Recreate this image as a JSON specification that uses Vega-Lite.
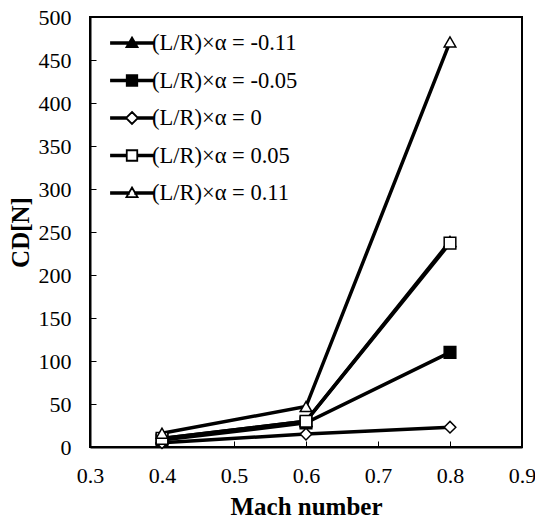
{
  "$schema": "https://vega.github.io/schema/vega-lite/v6.json",
  "autosize": {"type": "none"},
  "width": 432,
  "height": 430,
  "padding": {"left": 90, "top": 17, "right": 13, "bottom": 76},
  "background": "white",
  "config": {
    "view": {"stroke": "black", "strokeWidth": 2},
    "font": "Liberation Serif",
    "axis": {
      "grid": false,
      "domainColor": "black",
      "domainWidth": 2,
      "tickColor": "black",
      "tickSize": -6,
      "tickWidth": 1,
      "labelFont": "Liberation Serif",
      "labelFontSize": 22,
      "labelColor": "black",
      "titleFont": "Liberation Serif",
      "titleFontSize": 25,
      "titleFontWeight": "bold",
      "titleColor": "black"
    }
  },
  "data": {
    "values": [
      {"series": "(L/R)×α = -0.11", "mach": 0.4, "cd": 10},
      {"series": "(L/R)×α = -0.11", "mach": 0.6, "cd": 30},
      {"series": "(L/R)×α = -0.11", "mach": 0.8, "cd": 239},
      {"series": "(L/R)×α = -0.05", "mach": 0.4, "cd": 8},
      {"series": "(L/R)×α = -0.05", "mach": 0.6, "cd": 28},
      {"series": "(L/R)×α = -0.05", "mach": 0.8, "cd": 110},
      {"series": "(L/R)×α = 0", "mach": 0.4, "cd": 5},
      {"series": "(L/R)×α = 0", "mach": 0.6, "cd": 15},
      {"series": "(L/R)×α = 0", "mach": 0.8, "cd": 23},
      {"series": "(L/R)×α = 0.05", "mach": 0.4, "cd": 10},
      {"series": "(L/R)×α = 0.05", "mach": 0.6, "cd": 30},
      {"series": "(L/R)×α = 0.05", "mach": 0.8, "cd": 237},
      {"series": "(L/R)×α = 0.11", "mach": 0.4, "cd": 16},
      {"series": "(L/R)×α = 0.11", "mach": 0.6, "cd": 47},
      {"series": "(L/R)×α = 0.11", "mach": 0.8, "cd": 471}
    ]
  },
  "encoding": {
    "x": {
      "field": "mach",
      "type": "quantitative",
      "scale": {"domain": [0.3, 0.9], "nice": false, "zero": false},
      "axis": {"title": "Mach number", "values": [0.3, 0.4, 0.5, 0.6, 0.7, 0.8, 0.9], "format": ".1f", "labelPadding": 24, "titlePadding": 8, "labelFlush": false, "labelFont": "Liberation Serif"}
    },
    "y": {
      "field": "cd",
      "type": "quantitative",
      "scale": {"domain": [0, 500], "nice": false},
      "axis": {"title": "CD[N]", "values": [0, 50, 100, 150, 200, 250, 300, 350, 400, 450, 500], "labelPadding": 25, "titlePadding": 5, "labelFlush": false, "labelFont": "Liberation Serif"}
    }
  },
  "layer": [
    {
      "mark": {"type": "line", "color": "black", "strokeWidth": 3.5},
      "encoding": {"detail": {"field": "series"}}
    },
    {
      "mark": {"type": "point", "filled": true, "stroke": "black", "strokeWidth": 1.5, "size": 135, "opacity": 1},
      "encoding": {
        "shape": {
          "field": "series",
          "scale": {
            "domain": ["(L/R)×α = -0.11", "(L/R)×α = -0.05", "(L/R)×α = 0", "(L/R)×α = 0.05", "(L/R)×α = 0.11"],
            "range": ["triangle-up", "square", "diamond", "square", "triangle-up"]
          },
          "legend": null
        },
        "fill": {
          "field": "series",
          "scale": {
            "domain": ["(L/R)×α = -0.11", "(L/R)×α = -0.05", "(L/R)×α = 0", "(L/R)×α = 0.05", "(L/R)×α = 0.11"],
            "range": ["black", "black", "white", "white", "white"]
          },
          "legend": null
        }
      }
    },
    {
      "mark": {"type": "point", "filled": true, "stroke": "black", "strokeWidth": 1.5, "size": 10, "opacity": 0},
      "encoding": {
        "shape": {
          "field": "series",
          "scale": {
            "domain": ["(L/R)×α = -0.11", "(L/R)×α = -0.05", "(L/R)×α = 0", "(L/R)×α = 0.05", "(L/R)×α = 0.11"],
            "range": [
              "M-1.4,-0.05H-0.21V0.05H-1.4Z M0.21,-0.05H1.4V0.05H0.21Z M0,-0.37L0.37,0.27H-0.37Z",
              "M-1.4,-0.05H-0.35V0.05H-1.4Z M0.35,-0.05H1.4V0.05H0.35Z M-0.35,-0.35H0.35V0.35H-0.35Z",
              "M-1.4,-0.05H-0.4V0.05H-1.4Z M0.4,-0.05H1.4V0.05H0.4Z M0,-0.4L0.4,0L0,0.4L-0.4,0Z",
              "M-1.4,-0.05H-0.35V0.05H-1.4Z M0.35,-0.05H1.4V0.05H0.35Z M-0.35,-0.35H0.35V0.35H-0.35Z",
              "M-1.4,-0.05H-0.21V0.05H-1.4Z M0.21,-0.05H1.4V0.05H0.21Z M0,-0.37L0.37,0.27H-0.37Z"
            ]
          },
          "legend": {
            "title": null,
            "orient": "none",
            "legendX": 26,
            "legendY": 10,
            "padding": 0,
            "labelFont": "Liberation Serif",
            "labelFontSize": 22.5,
            "labelColor": "black",
            "labelOffset": 4,
            "symbolSize": 900,
            "symbolStrokeWidth": 1.8,
            "symbolStrokeColor": "black",
            "symbolOpacity": 1,
            "rowPadding": 9.5,
            "encode": {"symbols": {"update": {"stroke": {"value": "black"}, "strokeWidth": {"value": 1.8}, "opacity": {"value": 1}}}}
          }
        },
        "fill": {
          "field": "series",
          "scale": {
            "domain": ["(L/R)×α = -0.11", "(L/R)×α = -0.05", "(L/R)×α = 0", "(L/R)×α = 0.05", "(L/R)×α = 0.11"],
            "range": ["black", "black", "white", "white", "white"]
          },
          "legend": {
            "title": null,
            "orient": "none",
            "legendX": 26,
            "legendY": 10,
            "padding": 0,
            "labelFont": "Liberation Serif",
            "labelFontSize": 22.5,
            "labelColor": "black",
            "labelOffset": 4,
            "symbolSize": 900,
            "symbolStrokeWidth": 1.8,
            "symbolStrokeColor": "black",
            "symbolOpacity": 1,
            "rowPadding": 9.5,
            "encode": {"symbols": {"update": {"stroke": {"value": "black"}, "strokeWidth": {"value": 1.8}, "opacity": {"value": 1}}}}
          }
        }
      }
    }
  ],
  "resolve": {"scale": {"shape": "independent", "fill": "independent"}}
}
